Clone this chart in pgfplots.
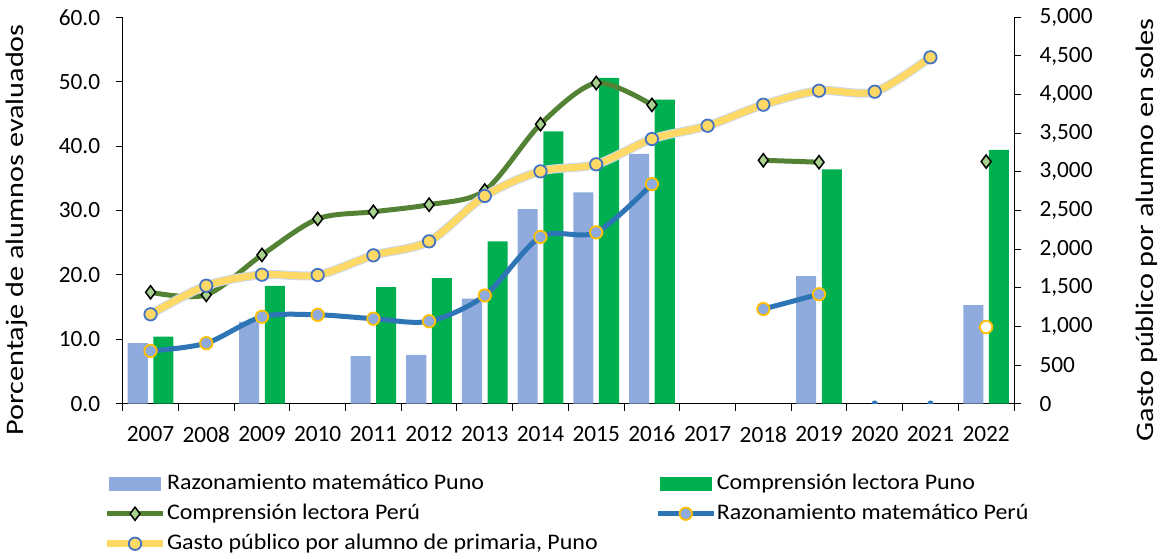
\documentclass[border=0pt]{standalone}
\usepackage{fontspec}
\setmainfont{Carlito}
\newfontfamily\legfont{Carlito}[FakeStretch=1.075]
\newfontfamily\titfont{Carlito}[FakeStretch=1.2]
\usepackage{pgfplots}
\pgfplotsset{compat=1.18}

\definecolor{rmpuno}{HTML}{8FAADC}
\definecolor{clpuno}{HTML}{00B050}
\definecolor{clperu}{HTML}{548235}
\definecolor{clperumk}{HTML}{A9D18E}
\definecolor{rmperu}{HTML}{2E75B6}
\definecolor{rmperuedge}{HTML}{FFC000}
\definecolor{gasto}{HTML}{FFD966}
\definecolor{gastoedge}{HTML}{4472C4}
\definecolor{gastohalo}{HTML}{C9D8F0}

\tikzset{
  clmark/.style={mark=diamond*, mark size=6.6pt, mark options={solid, fill=clperumk, draw=black, line width=1.5pt}},
  rmmark/.style={mark=*, mark size=6.2pt, mark options={solid, fill=rmpuno, draw=rmperuedge, line width=1.8pt}},
  gmark/.style={mark=*, mark size=6.2pt, mark options={solid, fill=gasto, draw=gastoedge, line width=1.8pt}},
}

\pgfplotsset{
  base/.style={
    scale only axis, width=891.3pt, height=386.4pt,
    at={(0pt,0pt)}, anchor=south west,
    xmin=-0.5, xmax=15.5,
    tick align=outside, major tick length=7pt,
    every tick/.style={black, line width=1pt},
    axis line style={black, line width=1pt},
    tick label style={font=\fontsize{23.3}{27}\selectfont, /pgf/number format/assume math mode=true},
    label style={font=\titfont\fontsize{25.2}{30}\selectfont},
  },
}

\begin{document}
\begin{tikzpicture}
\path[use as bounding box] (-122.7pt,-154.3pt) rectangle (1042.3pt,403.7pt);

\begin{axis}[base,
  axis x line*=bottom, axis y line*=left,
  ymin=0, ymax=60, ytick={0,10,...,60},
  yticklabel style={xshift=-12pt, /pgf/number format/.cd, fixed, fixed zerofill, precision=1},
  xtick={-0.5,0.5,...,15.5}, x tick label as interval,
  xticklabel style={yshift=-12pt},
  xticklabels={2007,2008,2009,2010,2011,2012,2013,2014,2015,2016,2017,2018,2019,2020,2021,2022},
  ylabel={Porcentaje de alumnos evaluados},
  ylabel style={at={(axis description cs:-0.1185,0.45)}, anchor=center},
  clip marker paths=true,
  legend columns=2,
  legend cell align=left,
  legend style={
    at={(axis description cs:-0.0215,-0.18)}, anchor=north west,
    draw=none, fill=none, inner sep=0pt, outer sep=0pt,
    font=\legfont\fontsize{22.3}{27}\selectfont,
    row sep=9pt,
    /tikz/every even column/.append style={column sep=57pt},
    nodes={inner xsep=0.5pt, inner ysep=0pt, text height=16pt, text depth=5pt},
  },
]
\addplot[ybar, bar width=0.36, bar shift=-0.23, fill=rmpuno, draw=none,
  legend image code/.code={\fill[rmpuno] (2.3pt,-6.9pt) rectangle (54.3pt,6.9pt);}]
  coordinates {(0,9.4)(2,12.7)(4,7.4)(5,7.6)(6,16.3)(7,30.2)(8,32.8)(9,38.8)(12,19.8)(15,15.3)};
\addlegendentry{Razonamiento matemático Puno}
\addplot[ybar, bar width=0.36, bar shift=0.23, fill=clpuno, draw=none,
  legend image code/.code={\fill[clpuno] (2.3pt,-6.9pt) rectangle (54.3pt,6.9pt);}]
  coordinates {(0,10.4)(2,18.3)(4,18.1)(5,19.5)(6,25.2)(7,42.3)(8,50.6)(9,47.2)(12,36.4)(15,39.4)};
\addlegendentry{Comprensión lectora Puno}

\addplot[clperu, line width=5pt, smooth, tension=0.5, clmark,
  legend image code/.code={\draw[clperu, line width=5pt] (0pt,0pt) -- (56pt,0pt);
    \draw[clmark] plot coordinates {(28pt,0pt)};}]
  coordinates {(0,17.3)(1,16.9)(2,23.1)(3,28.7)(4,29.8)(5,30.9)(6,33.1)(7,43.4)(8,49.8)(9,46.4)};
\addlegendentry{Comprensión lectora Perú}
\addplot[rmperu, line width=5pt, smooth, tension=0.5, rmmark,
  legend image code/.code={\draw[rmperu, line width=5pt] (0pt,0pt) -- (56pt,0pt);
    \draw[rmmark] plot coordinates {(28pt,0pt)};}]
  coordinates {(0,8.2)(1,9.4)(2,13.5)(3,13.8)(4,13.2)(5,12.8)(6,16.8)(7,25.9)(8,26.6)(9,34.1)};
\addlegendentry{Razonamiento matemático Perú}
\addlegendimage{legend image code/.code={\draw[gasto, line width=7pt] (0pt,0pt) -- (56pt,0pt);
    \draw[gmark] plot coordinates {(28pt,0pt)};}}
\addlegendentry{Gasto público por alumno de primaria, Puno}

\addplot[forget plot, clperu, line width=5pt, smooth, tension=0.5, clmark]
  coordinates {(11,37.8)(12,37.5)};
\addplot[forget plot, only marks, clmark] coordinates {(15,37.6)};
\addplot[forget plot, rmperu, line width=5pt, smooth, tension=0.5, rmmark]
  coordinates {(11,14.7)(12,17.0)};
\addplot[forget plot, only marks, mark=*, mark size=3pt, rmperu] coordinates {(13,0)(14,0)};
\addplot[forget plot, only marks, mark=*, mark size=6.2pt,
  mark options={fill=white, draw=rmperuedge, line width=1.8pt}] coordinates {(15,11.9)};
\end{axis}

\begin{axis}[base,
  axis y line*=right, axis x line=none,
  ymin=0, ymax=5000, ytick={0,500,...,5000},
  scaled y ticks=false,
  yticklabel style={xshift=15pt, /pgf/number format/.cd, fixed, 1000 sep={,}},
  ylabel={Gasto público por alumno en soles},
  ylabel style={at={(axis description cs:1.1495,0.45)}, anchor=center},
]
\addplot[gastohalo, line width=9pt, smooth, tension=0.5]
  coordinates {(0,1157)(1,1527)(2,1669)(3,1665)(4,1920)(5,2101)(6,2688)(7,3007)(8,3098)(9,3425)(10,3597)(11,3869)(12,4050)(13,4037)(14,4482)};
\addplot[gasto, line width=7pt, smooth, tension=0.5, gmark]
  coordinates {(0,1157)(1,1527)(2,1669)(3,1665)(4,1920)(5,2101)(6,2688)(7,3007)(8,3098)(9,3425)(10,3597)(11,3869)(12,4050)(13,4037)(14,4482)};
\end{axis}
\end{tikzpicture}
\end{document}
